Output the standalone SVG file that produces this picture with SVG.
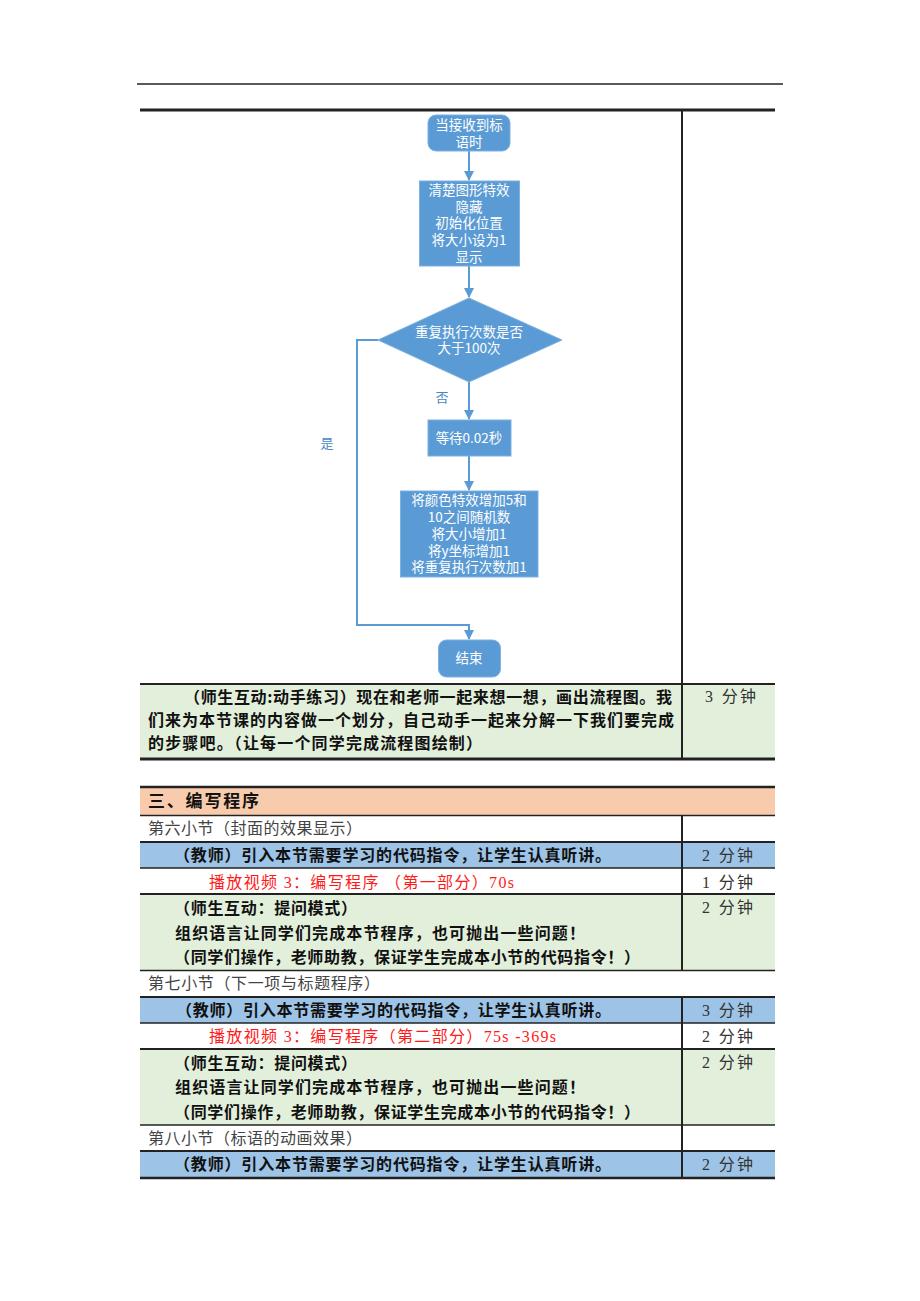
<svg xmlns="http://www.w3.org/2000/svg" width="920" height="1301" viewBox="0 0 920 1301">
<style>
.bg{fill:#ffffff}
.node{fill:#5B9BD5;stroke:#7DB1E0;stroke-width:1}
.nt{font-family:"Noto Sans CJK SC","Noto Sans",sans-serif;font-size:13.5px;fill:#ffffff;text-anchor:middle}
.lbl{font-family:"Noto Sans CJK SC","Noto Sans",sans-serif;font-size:13px;fill:#4A86C5;text-anchor:middle}
.conn{fill:none;stroke:#5B9BD5;stroke-width:2}
.rule{stroke:#222;fill:none}
.bt{font-family:"Noto Sans CJK SC","Noto Sans",sans-serif;font-size:16px;font-weight:bold;fill:#111}
.st{font-family:"Liberation Serif","Noto Sans CJK SC",serif;font-size:16px;fill:#444}
.rt{font-family:"Liberation Serif","Noto Sans CJK SC",serif;font-size:16px;fill:#FF1A1A}
.tm{font-family:"Liberation Serif","Noto Sans CJK SC",serif;font-size:16px;fill:#333}
.green{fill:#E2EFDA}
.blue{fill:#9DC3E6}
.peach{fill:#F8CBAD}
</style>
<defs>
<marker id="arr" markerWidth="10" markerHeight="10" refX="9" refY="5" orient="auto" markerUnits="userSpaceOnUse">
<path d="M0,0 L10,5 L0,10 Z" fill="#5B9BD5"/>
</marker>
</defs>
<rect class="bg" x="0" y="0" width="920" height="1301"/>

<g id="table1">
<rect class="green" x="140" y="684" width="635" height="75"/>
<line class="rule" x1="137" y1="84" x2="783" y2="84" stroke-width="1.5"/>
<line class="rule" x1="140" y1="110" x2="775" y2="110" stroke-width="3"/>
<line class="rule" x1="682" y1="110" x2="682" y2="759" stroke-width="2"/>
<line class="rule" x1="140" y1="684" x2="775" y2="684" stroke-width="2"/>
<line class="rule" x1="140" y1="759" x2="775" y2="759" stroke-width="3"/>
<text class="bt" x="184" y="703" textLength="488" lengthAdjust="spacing">（师生互动:动手练习）现在和老师一起来想一想，画出流程图。我</text>
<text class="bt" x="148" y="726" textLength="526" lengthAdjust="spacing">们来为本节课的内容做一个划分，自己动手一起来分解一下我们要完成</text>
<text class="bt" x="148" y="749" textLength="334" lengthAdjust="spacing">的步骤吧。（让每一个同学完成流程图绘制）</text>
<text class="tm" x="705" y="702" textLength="51" lengthAdjust="spacing">3 分钟</text>
</g>

<g id="connectors">
<path class="conn" d="M469,151 L469,180" marker-end="url(#arr)"/>
<path class="conn" d="M469,266 L469,297" marker-end="url(#arr)"/>
<path class="conn" d="M469,382 L469,419" marker-end="url(#arr)"/>
<path class="conn" d="M469,456 L469,490" marker-end="url(#arr)"/>
<path class="conn" d="M378,340 L357,340 L357,625 L469,625 L469,639" marker-end="url(#arr)"/>
<text class="lbl" x="442" y="402">否</text>
<text class="lbl" x="327" y="448">是</text>
</g>

<g id="start">
<rect class="node" x="428" y="115" width="82" height="36" rx="8"/>
<text class="nt" x="469" y="130">当接收到标</text>
<text class="nt" x="469" y="146.5">语时</text>
</g>
<g id="init">
<rect class="node" x="419.5" y="181" width="100" height="85"/>
<text class="nt" x="469" y="195">清楚图形特效</text>
<text class="nt" x="469" y="211.5">隐藏</text>
<text class="nt" x="469" y="228">初始化位置</text>
<text class="nt" x="469" y="245">将大小设为1</text>
<text class="nt" x="469" y="261.5">显示</text>
</g>
<g id="decision">
<polygon class="node" points="469,298 562,340 469,382 378,340"/>
<text class="nt" x="469" y="336.5">重复执行次数是否</text>
<text class="nt" x="469" y="352.5">大于100次</text>
</g>
<g id="wait">
<rect class="node" x="428" y="420" width="83" height="36"/>
<text class="nt" x="469" y="442.5">等待0.02秒</text>
</g>
<g id="update">
<rect class="node" x="400.5" y="491" width="137.5" height="86"/>
<text class="nt" x="469" y="505">将颜色特效增加5和</text>
<text class="nt" x="469" y="522">10之间随机数</text>
<text class="nt" x="469" y="539">将大小增加1</text>
<text class="nt" x="469" y="556">将y坐标增加1</text>
<text class="nt" x="469" y="572">将重复执行次数加1</text>
</g>
<g id="end">
<rect class="node" x="438.5" y="640" width="62" height="37" rx="8"/>
<text class="nt" x="469" y="663">结束</text>
</g>

<g id="table2">
<rect class="peach" x="140" y="787" width="635" height="28"/>
<rect class="blue" x="140" y="842" width="635" height="26"/>
<rect class="green" x="140" y="894" width="635" height="76"/>
<rect class="blue" x="140" y="997" width="635" height="26"/>
<rect class="green" x="140" y="1049" width="635" height="76"/>
<rect class="blue" x="140" y="1151" width="635" height="27"/>
<line class="rule" x1="140" y1="787" x2="775" y2="787" stroke-width="2.5"/>
<line class="rule" x1="140" y1="815.5" x2="775" y2="815.5" stroke-width="1.5"/>
<line class="rule" x1="140" y1="842" x2="775" y2="842" stroke-width="2"/>
<line class="rule" x1="140" y1="868" x2="775" y2="868" stroke-width="1.5"/>
<line class="rule" x1="140" y1="894" x2="775" y2="894" stroke-width="2"/>
<line class="rule" x1="140" y1="970.5" x2="775" y2="970.5" stroke-width="1.5"/>
<line class="rule" x1="140" y1="997" x2="775" y2="997" stroke-width="2"/>
<line class="rule" x1="140" y1="1023" x2="775" y2="1023" stroke-width="1.5"/>
<line class="rule" x1="140" y1="1049" x2="775" y2="1049" stroke-width="2"/>
<line class="rule" x1="140" y1="1125" x2="775" y2="1125" stroke-width="1.5"/>
<line class="rule" x1="140" y1="1151" x2="775" y2="1151" stroke-width="2"/>
<line class="rule" x1="140" y1="1178" x2="775" y2="1178" stroke-width="2.5"/>
<line class="rule" x1="682" y1="815.5" x2="682" y2="970.5" stroke-width="2"/>
<line class="rule" x1="682" y1="997" x2="682" y2="1178" stroke-width="2"/>

<text class="bt" x="148" y="807" font-size="17" textLength="111" lengthAdjust="spacing" style="font-size:17px">三、编写程序</text>

<text class="st" x="148" y="834" textLength="214" lengthAdjust="spacing">第六小节（封面的效果显示）</text>
<text class="bt" x="174" y="861" textLength="437" lengthAdjust="spacing">（教师）引入本节需要学习的代码指令，让学生认真听讲。</text>
<text class="tm" x="702" y="861" textLength="51" lengthAdjust="spacing">2 分钟</text>
<text class="rt" x="209" y="888" textLength="305" lengthAdjust="spacing">播放视频 3：编写程序 （第一部分）70s</text>
<text class="tm" x="702" y="888" textLength="51" lengthAdjust="spacing">1 分钟</text>
<text class="bt" x="174" y="914" textLength="183" lengthAdjust="spacing">（师生互动：提问模式）</text>
<text class="bt" x="175" y="939" textLength="410" lengthAdjust="spacing">组织语言让同学们完成本节程序，也可抛出一些问题！</text>
<text class="bt" x="174" y="963" textLength="466" lengthAdjust="spacing">（同学们操作，老师助教，保证学生完成本小节的代码指令！）</text>
<text class="tm" x="702" y="913" textLength="51" lengthAdjust="spacing">2 分钟</text>

<text class="st" x="148" y="989" textLength="232" lengthAdjust="spacing">第七小节（下一项与标题程序）</text>
<text class="bt" x="176" y="1016" textLength="435" lengthAdjust="spacing">（教师）引入本节需要学习的代码指令，让学生认真听讲。</text>
<text class="tm" x="702" y="1016" textLength="51" lengthAdjust="spacing">3 分钟</text>
<text class="rt" x="209" y="1042" textLength="347" lengthAdjust="spacing">播放视频 3：编写程序（第二部分）75s -369s</text>
<text class="tm" x="702" y="1042" textLength="51" lengthAdjust="spacing">2 分钟</text>
<text class="bt" x="174" y="1069" textLength="183" lengthAdjust="spacing">（师生互动：提问模式）</text>
<text class="bt" x="175" y="1093" textLength="410" lengthAdjust="spacing">组织语言让同学们完成本节程序，也可抛出一些问题！</text>
<text class="bt" x="174" y="1118" textLength="466" lengthAdjust="spacing">（同学们操作，老师助教，保证学生完成本小节的代码指令！）</text>
<text class="tm" x="702" y="1068" textLength="51" lengthAdjust="spacing">2 分钟</text>

<text class="st" x="148" y="1144" textLength="214" lengthAdjust="spacing">第八小节（标语的动画效果）</text>
<text class="bt" x="174" y="1170" textLength="437" lengthAdjust="spacing">（教师）引入本节需要学习的代码指令，让学生认真听讲。</text>
<text class="tm" x="702" y="1170" textLength="51" lengthAdjust="spacing">2 分钟</text>
</g>
</svg>
